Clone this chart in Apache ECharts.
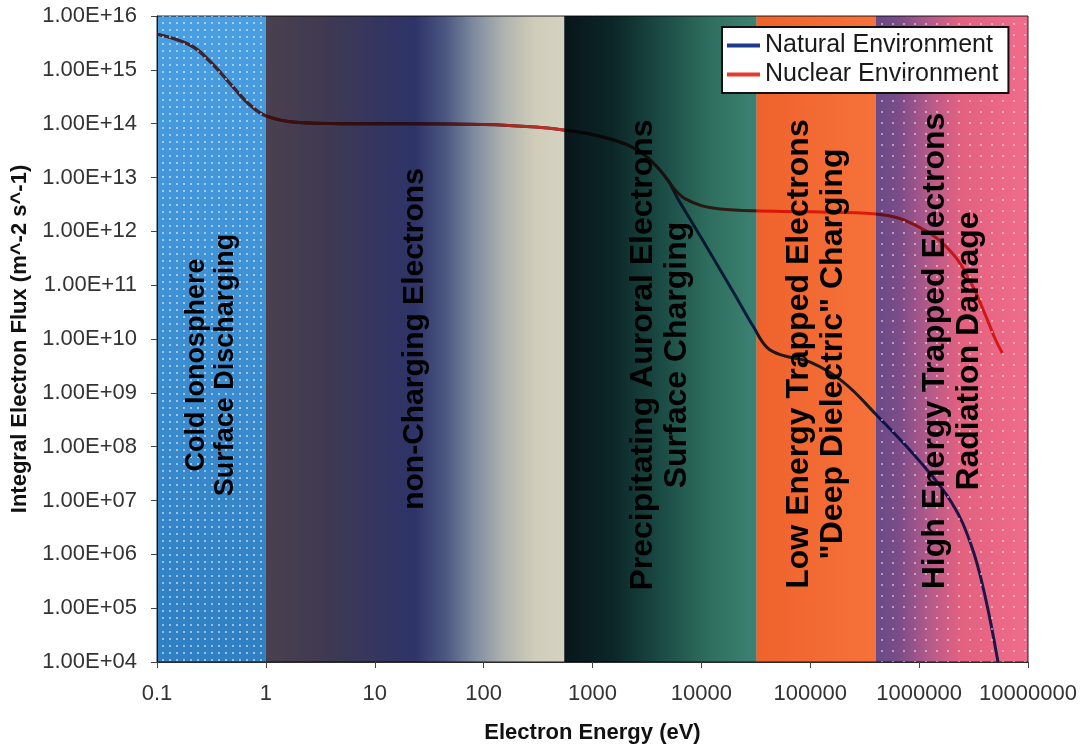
<!DOCTYPE html>
<html>
<head>
<meta charset="utf-8">
<script src="https://cdn.jsdelivr.net/npm/echarts@6/dist/echarts.min.js"></script>
<style>
html,body{margin:0;padding:0;background:#ffffff;}
#chart{width:1087px;height:746px;}
</style>
</head>
<body>
<div id="chart"></div>
<script>
// ---------------- data ----------------
const xTickLabels = ['0.1','1','10','100','1000','10000','100000','1000000','10000000'];
const yTickLabels = ['1.00E+04','1.00E+05','1.00E+06','1.00E+07','1.00E+08','1.00E+09','1.00E+10',
                     '1.00E+11','1.00E+12','1.00E+13','1.00E+14','1.00E+15','1.00E+16'];
const xAxisTitle = 'Electron Energy (eV)';
const yAxisTitle = 'Integral Electron Flux (m^-2 s^-1)';
const seriesNames = ['Natural Environment', 'Nuclear Environment'];

const naturalEnergy = [0.1,0.2,0.3,0.5,0.7,1,2,5,20,100,300,550,1000,2000,3000,4000,5000,
  6000,7000,10000,20000,30000,40000,55000,100000,200000,400000,1000000,2000000,3000000,4000000,5300000];
const naturalFlux = [4.6e15,2.9e15,1.5e15,4.8e14,2.3e14,1.4e14,1.05e14,1.0e14,1.0e14,9.7e13,8.7e13,7.6e13,6.3e13,4.2e13,2.6e13,1.5e13,8.5e12,
  4.2e12,2.5e12,7.5e11,7e10,1.7e10,7e9,5e9,3.7e9,1.6e9,4e8,5.5e7,9e6,1.5e6,1.8e5,1e4];

const nuclearEnergy = [0.1,0.2,0.3,0.5,0.7,1,2,5,20,100,300,550,1000,2000,3000,4000,5000,
  6000,7000,10000,15000,30000,100000,400000,1000000,2000000,3000000,4000000,5000000,5800000];
const nuclearFlux = [4.6e15,2.9e15,1.5e15,4.8e14,2.3e14,1.4e14,1.05e14,1.0e14,1.0e14,9.7e13,8.7e13,7.6e13,6.3e13,4.2e13,2.6e13,1.5e13,8.5e12,
  5.3e12,4.1e12,3.0e12,2.6e12,2.4e12,2.3e12,2.1e12,1.2e12,4e11,1.1e11,3e10,1e10,5.5e9];

// energy regimes (background bands)
const bandStart = [0.1, 1, 550, 32000, 400000];
const bandEnd   = [1, 550, 32000, 400000, 10000000];
const bandLabels = [
  'Cold Ionosphere\nSurface Discharging',
  'non-Charging Electrons',
  'Precipitating Auroral Electrons\nSurface Charging',
  'Low Energy Trapped Electrons\n"Deep Dielectric" Charging',
  'High Energy Trapped Electrons\nRadiation Damage'
];

// ---------------- styles ----------------
const FONT = '"Liberation Sans", Arial, Helvetica, sans-serif';
const lineColors = ['#1f3a8c', '#e63a2c'];
const G = echarts.graphic.LinearGradient;
const bandFills = [
  new G(0, 0, 0, 1, [{offset:0,color:'#4a9ee2'},{offset:1,color:'#2f7fc2'}]),
  new G(0, 0, 1, 0, [{offset:0,color:'#4a404e'},{offset:0.2,color:'#3f3a52'},{offset:0.4,color:'#333562'},
                     {offset:0.5,color:'#2e3468'},{offset:0.6,color:'#4a5680'},{offset:0.7,color:'#7f8ca0'},
                     {offset:0.8,color:'#b0b4b0'},{offset:0.9,color:'#cfccb9'},{offset:1,color:'#d6d2c2'}]),
  new G(0, 0, 1, 0, [{offset:0,color:'#08161a'},{offset:0.25,color:'#0c2628'},{offset:0.5,color:'#1a4a44'},
                     {offset:0.75,color:'#2e6e5e'},{offset:1,color:'#3c8272'}]),
  new G(0, 0, 1, 0, [{offset:0,color:'#ef622c'},{offset:1,color:'#f6723a'}]),
  new G(0, 0, 1, 0, [{offset:0,color:'#6a4a86'},{offset:0.15,color:'#7a4c88'},{offset:0.35,color:'#b45a8a'},
                     {offset:0.55,color:'#e2617f'},{offset:1,color:'#f06c8a'}])
];
function dotPattern(step, size, alpha) {
  const c = document.createElement('canvas');
  c.width = step; c.height = step;
  const g = c.getContext('2d');
  g.fillStyle = 'rgba(255,255,255,' + alpha + ')';
  g.fillRect(1, 1, size, size);
  return {image: c, repeat: 'repeat'};
}
const bandDots = [dotPattern(7, 2, 0.5), null, null, null, dotPattern(11, 2, 0.45)];
const labelCenterY = [365, 339, 355, 354, 351];
const labelFontSize = [27, 30, 32, 32, 32];

// ---------------- chart ----------------
const chart = echarts.init(document.getElementById('chart'), null, {renderer: 'canvas'});
const bandData = bandStart.map((s, i) => [s, bandEnd[i]]);

function bandRect(api, params) {
  const cs = params.coordSys;
  const x0 = api.coord([api.value(0), 1e10])[0];
  const x1 = api.coord([api.value(1), 1e10])[0];
  return {x: x0, y: cs.y, width: x1 - x0, height: cs.height};
}

chart.setOption({
  backgroundColor: '#ffffff',
  animation: false,
  grid: {left: 157, right: 59, top: 16, bottom: 84, show: true, borderColor: '#2a2a2a', borderWidth: 1,
         outerBoundsMode: 'none'},
  legend: {
    orient: 'vertical', left: 722, top: 27,
    backgroundColor: '#ffffff', borderColor: '#111', borderWidth: 2,
    padding: [6, 10, 6, 5], itemGap: 4, itemWidth: 33, itemHeight: 4,
    textStyle: {fontFamily: FONT, fontSize: 25, color: '#1a1a1a'},
    data: seriesNames.map((n, i) => ({name: n, icon: 'rect', itemStyle: {color: lineColors[i]}}))
  },
  xAxis: {
    type: 'log', logBase: 10, min: 0.1, max: 1e7, interval: 1,
    name: xAxisTitle, nameLocation: 'middle', nameGap: 60,
    nameTextStyle: {fontFamily: FONT, fontSize: 22, fontWeight: 'bold', color: '#111'},
    axisLine: {show: true, lineStyle: {color: '#2a2a2a', width: 1}},
    axisTick: {show: true, length: 6, lineStyle: {color: '#444'}},
    minorTick: {show: false},
    splitLine: {show: false},
    axisLabel: {
      fontFamily: FONT, fontSize: 22, color: '#333', margin: 21, interval: 0,
      formatter: v => xTickLabels[Math.round(Math.log10(v)) + 1]
    }
  },
  yAxis: {
    type: 'log', logBase: 10, min: 1e4, max: 1e16, interval: 1,
    name: yAxisTitle, nameLocation: 'middle', nameGap: 120, nameRotate: 90,
    nameTextStyle: {fontFamily: FONT, fontSize: 22, fontWeight: 'bold', color: '#111'},
    axisLine: {show: true, lineStyle: {color: '#2a2a2a', width: 1}},
    axisTick: {show: true, length: 6, lineStyle: {color: '#444'}},
    minorTick: {show: false},
    splitLine: {show: false},
    axisLabel: {
      fontFamily: FONT, fontSize: 22, color: '#333', margin: 20, interval: 0,
      formatter: v => yTickLabels[Math.round(Math.log10(v)) - 4]
    }
  },
  series: [
    {
      name: seriesNames[0], type: 'line', z: 2,
      data: naturalEnergy.map((e, i) => [e, naturalFlux[i]]),
      showSymbol: false, smooth: 0.4,
      itemStyle: {color: lineColors[0]},
      lineStyle: {color: lineColors[0], width: 3}
    },
    {
      name: seriesNames[1], type: 'line', z: 2,
      data: nuclearEnergy.map((e, i) => [e, nuclearFlux[i]]),
      showSymbol: false, smooth: 0.4,
      itemStyle: {color: lineColors[1]},
      lineStyle: {color: lineColors[1], width: 3}
    },
    {
      // regime colour bands, multiplied over the curves
      name: 'bands', type: 'custom', z: 3, blendMode: 'multiply', silent: true,
      data: bandData, encode: {x: [0, 1]},
      renderItem: (params, api) => ({
        type: 'rect', shape: bandRect(api, params),
        style: {fill: bandFills[params.dataIndex]}
      })
    },
    {
      // dotted texture and regime labels
      name: 'bandLabels', type: 'custom', z: 4, silent: true,
      data: bandData, encode: {x: [0, 1]},
      renderItem: (params, api) => {
        const i = params.dataIndex;
        const r = bandRect(api, params);
        const children = [];
        if (bandDots[i]) {
          children.push({type: 'rect', shape: r, style: {fill: bandDots[i]}});
        }
        children.push({
          type: 'text', x: r.x + r.width / 2, y: labelCenterY[i], rotation: Math.PI / 2,
          style: {text: bandLabels[i], fill: '#000', fontFamily: FONT, fontSize: labelFontSize[i], fontWeight: 'bold',
                  align: 'center', verticalAlign: 'middle', lineHeight: labelFontSize[i] + 2}
        });
        return {type: 'group', children: children};
      }
    }
  ]
});
</script>
</body>
</html>
